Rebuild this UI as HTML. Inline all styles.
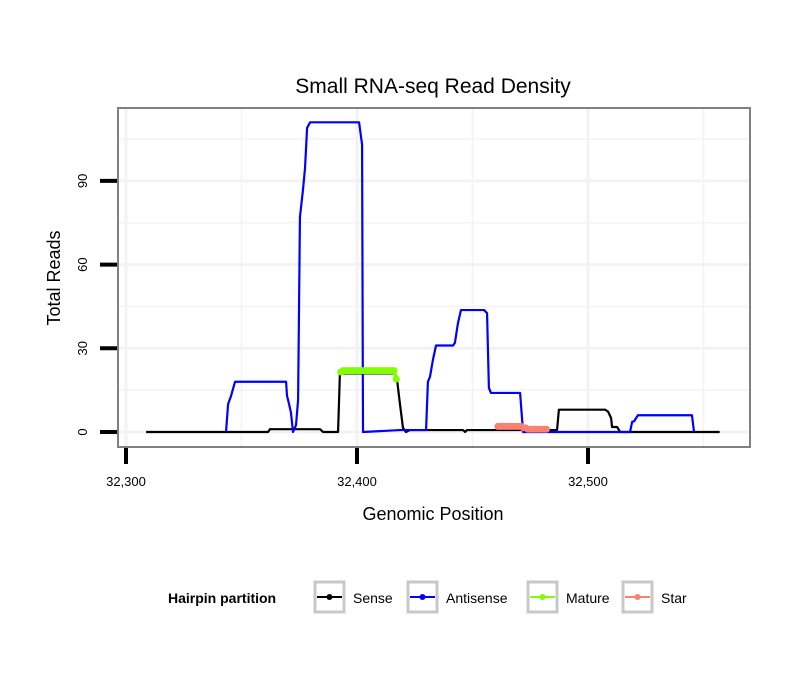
<!DOCTYPE html>
<html><head><meta charset="utf-8"><style>
body{margin:0;background:#fff;font-family:"Liberation Sans",sans-serif}
svg{display:block}
</style></head><body>
<svg id="chart" width="810" height="690" xmlns="http://www.w3.org/2000/svg">
<rect width="810" height="690" fill="#fff"/>
<g id="grid"></g>
<g id="series"></g>
<rect x="118" y="108" width="632" height="339" fill="none" stroke="#808080" stroke-width="2"/>
<g id="axes"></g>
<text x="433" y="93" text-anchor="middle" font-size="21">Small RNA-seq Read Density</text>
<text x="433" y="520" text-anchor="middle" font-size="18">Genomic Position</text>
<text transform="translate(60,278) rotate(-90)" text-anchor="middle" font-size="18">Total Reads</text>
<g id="legend">
<text x="168" y="603" font-size="14" font-weight="bold">Hairpin partition</text>
</g>
</svg>
<script>
const xTicks=[32300,32400,32500];
const xTickLabels=["32,300","32,400","32,500"];
const yTicks=[0,30,60,90];
const yTickLabels=["0","30","60","90"];
const senseX=[32308.7,32361.5,32362.3,32384,32385.3,32391.8,32392.6,32416.5,32417.3,32418.6,32419.9,32421.2,32422.9,32445.9,32446.8,32447.6,32481.8,32486.6,32487.4,32507.4,32508.7,32510,32510.4,32512.6,32513.9,32557];
const senseY=[0,0,1,1,0,0,21,21,19,10,1.5,0,0.7,0.7,0,0.7,0.7,0.7,8,8,7.3,5,1.8,1.8,0,0];
const antiX=[32343.3,32344.2,32345.5,32347.2,32369.3,32369.7,32370.6,32371.4,32372.3,32373.6,32374.5,32375.3,32376.6,32377.5,32378.4,32379.7,32400.9,32402.2,32402.6,32418.6,32429.9,32430.7,32431.6,32432.9,32434.2,32435.1,32441.6,32442.4,32443.7,32445,32447.2,32455,32456.3,32457.1,32458,32470.6,32471.9,32518.2,32519.1,32520,32521.6,32545,32545.9];
const antiY=[0,10,13,18,18,13,10,7,0,2.5,11.5,77,86.7,94.6,109,111,111,103,0,0.7,0.7,18,19.8,26,31,31,31,32,39,43.7,43.7,43.7,42.6,15.8,14,14,0,0,3.6,3.9,6,6,0];
const matureX=[32393,32394,32395,32396,32397,32398,32399,32400,32401,32402,32403,32404,32405,32406,32407,32408,32409,32410,32411,32412,32413,32414,32415,32416,32417];
const matureY=[21.5,22,22,22,22,22,22,22,22,22,22,22,22,22,22,22,22,22,22,22,22,22,22,22,19];
const starX=[32461,32462,32463,32464,32465,32466,32467,32468,32469,32470,32471,32472,32473,32474,32475,32476,32477,32478,32479,32480,32481,32482];
const starY=[2,2,2,2,2,2,2,2,2,2,2,1.5,1.5,1,1,1,1,1,1,1,1,1];
const NS="http://www.w3.org/2000/svg";
const sx=v=>126+(v-32300)*2.31;
const sy=v=>432-v*2.79;
function mk(t,a,p){const e=document.createElementNS(NS,t);for(const k in a)e.setAttribute(k,a[k]);p.appendChild(e);return e;}
const grid=document.getElementById('grid'),axes=document.getElementById('axes'),ser=document.getElementById('series');
[32250,32300,32350,32400,32450,32500,32550].forEach(v=>{const x=sx(v);if(x<119||x>749)return;
 const l=mk('line',{x1:x,x2:x,y1:109,y2:446,stroke:'#f3f3f3','stroke-width':xTicks.includes(v)?3:1.5},grid);
 
 });
[0,15,30,45,60,75,90,105].forEach(v=>{const y=sy(v);
 const l=mk('line',{x1:119,x2:749,y1:y,y2:y,stroke:'#f3f3f3','stroke-width':yTicks.includes(v)?3:1.5},grid);
 
 });
xTicks.forEach((v,i)=>{const x=sx(v);
 const t=mk('line',{x1:x,x2:x,y1:448,y2:464,stroke:'#000','stroke-width':4},axes);
 
 
 const s=mk('text',{x:x,y:486,'text-anchor':'middle','font-size':13},axes);s.textContent=xTickLabels[i];
 
 });
yTicks.forEach((v,i)=>{const y=sy(v);
 const t=mk('line',{x1:100,x2:117,y1:y,y2:y,stroke:'#000','stroke-width':4},axes);
 
 
 const s=mk('text',{transform:`translate(87,${y}) rotate(-90)`,'text-anchor':'middle','font-size':13},axes);s.textContent=yTickLabels[i];
 
 });
function line(X,Y,c,name,pts){
 const p=mk('polyline',{points:X.map((x,i)=>sx(x)+','+sy(Y[i])).join(' '),fill:'none',stroke:c,'stroke-width':pts?4:2.2,'stroke-linejoin':'round'},ser);
 
 
 if(pts)X.forEach((x,i)=>{const c2=mk('circle',{cx:sx(x),cy:sy(Y[i]),r:3.5,fill:c},ser);
  
  });
}
line(senseX,senseY,'#000','sense',false);
line(antiX,antiY,'#0000ff','antisense',false);
line(matureX,matureY,'#7fff00','mature',true);
line(starX,starY,'#fa8072','star',true);
const leg=document.getElementById('legend');
const items=[["Sense","#000",314],["Antisense","#0000ff",407],["Mature","#7fff00",527],["Star","#fa8072",622]];
items.forEach(([n,c,x])=>{
 const g=mk('g',{},leg);
 
 
 mk('rect',{x:x+1,y:582,width:29,height:30,fill:'#fff',stroke:'#c8c8c8','stroke-width':3},g);
 mk('line',{x1:x+3,x2:x+28,y1:597,y2:597,stroke:c,'stroke-width':2},g);
 mk('circle',{cx:x+15.5,cy:597,r:3,fill:c},g);
 const t=mk('text',{x:x+39,y:603,'font-size':14},g);t.textContent=n;
});
</script>
</body></html>
